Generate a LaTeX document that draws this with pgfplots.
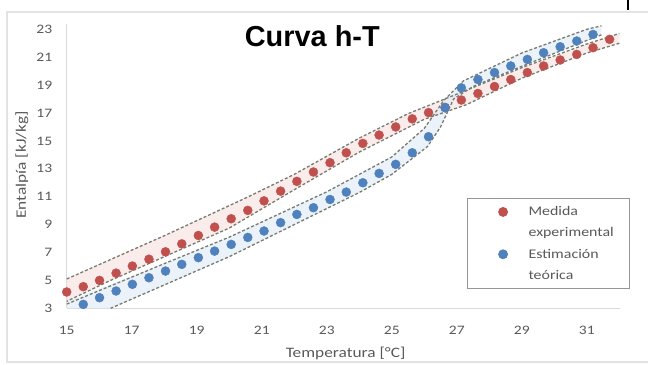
\documentclass[border=0pt]{standalone}
\usepackage{pgfplots}
\pgfplotsset{compat=1.18}
\usepackage{fontspec}
\setmainfont{Carlito}[FakeStretch=1.2]
\newfontfamily\arialfont{Liberation Sans}
\definecolor{xred}{RGB}{192,80,77}
\definecolor{xblue}{RGB}{79,129,189}
\definecolor{envline}{RGB}{118,124,112}
\definecolor{pinkfill}{RGB}{250,228,228}
\definecolor{bluefill}{RGB}{226,236,248}
\definecolor{ticklab}{RGB}{89,89,89}
\pgfplotsset{dotleg/.style={legend image code/.code={\path[draw=none,fill=none] (0bp,0bp) rectangle (30bp,0.1bp); \draw[##1] plot coordinates {(22bp,0bp)};}}}
\begin{document}
\begin{tikzpicture}
\useasboundingbox (-66.7bp,-56.7bp) rectangle (581.3bp,308.3bp);
\draw[gray!22, line width=1.2bp] (585bp,296.3bp) -- (-59.7bp,296.3bp) -- (-59.7bp,-53.7bp) -- (585bp,-53.7bp);
\draw[black, line width=1.6bp] (561.3bp,308.3bp) -- (561.3bp,298bp);
\begin{axis}[
  at={(0,0)}, anchor=south west,
  scale only axis, width=553.3bp, height=284.3bp,
  xmin=15, xmax=32.02, ymin=3, ymax=23.38,
  xtick={15,17,...,31}, ytick={3,5,...,23},
  axis x line*=bottom, axis y line*=left,
  axis line style={draw={rgb,255:red,217;green,217;blue,217}, line width=1bp, -},
  major tick length=0pt,
  tick label style={font=\fontsize{13}{14}\selectfont, text=ticklab},
  /pgf/number format/assume math mode=true,
  yticklabel style={xshift=-11bp},
  xticklabel style={yshift=-14bp},
  xlabel={Temperatura [°C]}, ylabel={Entalpía [kJ/kg]},
  every axis x label/.style={at={(axis description cs:0.504,0)}, yshift=-44.7bp, anchor=center, font=\fontsize{14.5}{15}\selectfont, text=ticklab},
  every axis y label/.style={at={(axis description cs:0,0.504)}, xshift=-44.7bp, anchor=center, rotate=90, font=\fontsize{14.5}{15}\selectfont, text=ticklab},
  legend style={at={(axis description cs:0.7229,0.3873)}, anchor=north west,
    draw={rgb,255:red,150;green,150;blue,150}, line width=0.8bp,
    font=\fontsize{13.3}{14}\selectfont, text=ticklab,
    inner xsep=14bp, inner ysep=6bp, row sep=6.5bp,
    /tikz/every odd column/.append style={column sep=15.5bp}},
  legend cell align=left,
  clip=true,
]
% envelopes (fills)
\addplot[fill=pinkfill, draw=none, fill opacity=0.7, forget plot] coordinates {
 (15,5.1) (18,8.2) (20.5,10.9) (22,12.6) (24,15.2) (25.5,16.95) (27,18.35) (29,20.25) (31,21.95) (32.0,22.7)
 (32.0,22.0) (31,21.3) (29,19.5) (27.3,17.6) (26,16.55) (24,14.2) (22,11.5) (20,8.75) (16.3,4.95) (15,3.5)} -- cycle;
\addplot[fill=bluefill, draw=none, fill opacity=0.7, forget plot] coordinates {
 (15,3.5) (18,6.2) (20,8.1) (23,11.35) (25,13.85) (26,15.9) (26.6,17.9) (27.2,19.3) (29,21.3) (31,23.0) (31.45,23.25)
 (31.45,22.6) (31,22.2) (29,20.35) (27.5,18.9) (26.9,18.0) (26.5,16.0) (26.1,14.6) (25,12.6) (24,11.3) (20,6.7) (16.35,3.0) (15,3.0)} -- cycle;
% envelope dashed outlines
\addplot[envline, line width=1.3bp, dash pattern=on 3bp off 2bp, forget plot] coordinates {
 (15,5.1) (18,8.2) (20.5,10.9) (22,12.6) (24,15.2) (25.5,16.95) (27,18.35) (29,20.25) (31,21.95) (32.0,22.7)};
\addplot[envline, line width=1.3bp, dash pattern=on 3bp off 2bp, forget plot] coordinates {
 (32.0,22.0) (31,21.3) (29,19.5) (27.3,17.6) (26,16.55) (24,14.2) (22,11.5) (20,8.75) (16.3,4.95) (15,3.5)};
\addplot[envline, line width=1.3bp, dash pattern=on 3bp off 2bp, forget plot] coordinates {
 (15,3.3) (18,6.2) (20,8.1) (23,11.35) (25,13.85) (26,15.9) (26.6,17.9) (27.2,19.3) (29,21.3) (31,23.0) (31.45,23.25)};
\addplot[envline, line width=1.3bp, dash pattern=on 3bp off 2bp, forget plot] coordinates {
 (31.45,22.6) (31,22.2) (29,20.35) (27.5,18.9) (26.9,18.0) (26.5,16.0) (26.1,14.6) (25,12.6) (24,11.3) (20,6.7) (16.35,3.0)};
% data
\addplot[only marks, mark=*, mark size=4.5bp, mark options={fill=xred, draw=xred}, dotleg] coordinates {
 (15.00,4.17) (15.51,4.55) (16.01,5.00) (16.52,5.52) (17.02,6.03) (17.53,6.52) (18.04,7.05) (18.54,7.62)
 (19.05,8.22) (19.55,8.82) (20.06,9.42) (20.57,10.02) (21.07,10.70) (21.58,11.40) (22.08,12.10) (22.59,12.77)
 (23.10,13.44) (23.60,14.15) (24.11,14.82) (24.61,15.42) (25.12,16.00) (25.63,16.58) (26.13,17.03) (26.64,17.40)
 (27.14,17.93) (27.65,18.40) (28.16,18.90) (28.66,19.40) (29.17,19.90) (29.67,20.37) (30.18,20.80) (30.69,21.20)
 (31.19,21.68) (31.70,22.28)};
\addlegendentry{Medida}
\addlegendimage{empty legend}
\addlegendentry{experimental}
\addplot[only marks, mark=*, mark size=4.5bp, mark options={fill=xblue, draw=xblue}, dotleg] coordinates {
 (15.51,3.28) (16.01,3.76) (16.52,4.24) (17.02,4.72) (17.53,5.19) (18.04,5.67) (18.54,6.15) (19.05,6.63)
 (19.55,7.10) (20.06,7.58) (20.57,8.08) (21.07,8.54) (21.58,9.14) (22.08,9.73) (22.59,10.21) (23.10,10.80)
 (23.60,11.33) (24.11,12.00) (24.61,12.67) (25.12,13.32) (25.63,14.15) (26.13,15.30) (26.64,17.38) (27.14,18.80)
 (27.65,19.40) (28.16,19.90) (28.66,20.37) (29.17,20.84) (29.67,21.32) (30.18,21.75) (30.69,22.16) (31.19,22.63)};
\addlegendentry{Estimación}
\addlegendimage{empty legend}
\addlegendentry{teórica}
\node[anchor=base, font=\arialfont\bfseries\fontsize{29}{30}\selectfont] at (axis description cs:0.4439,0.920) {Curva h-T};
\end{axis}
\end{tikzpicture}
\end{document}
